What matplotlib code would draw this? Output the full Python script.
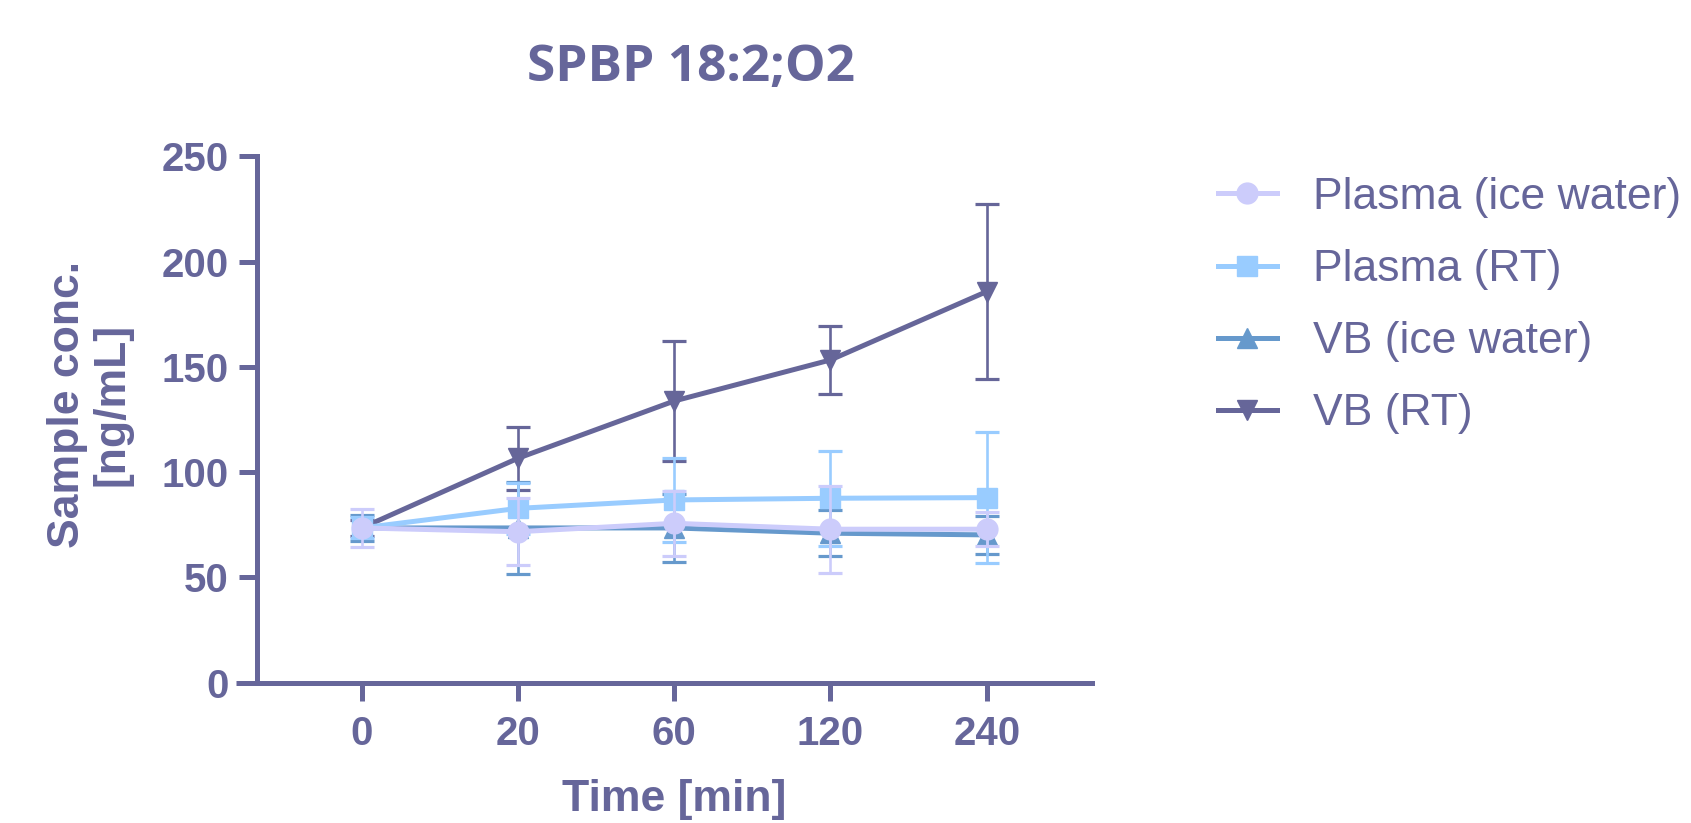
import numpy as np
import matplotlib.pyplot as plt
from matplotlib.lines import Line2D

# data
time_labels = ["0", "20", "60", "120", "240"]
series_names = ["Plasma (ice water)", "Plasma (RT)", "VB (ice water)", "VB (RT)"]

plasma_ice = [73.5, 71.7, 75.7, 72.9, 72.9]
plasma_ice_err = [9, 16, 15.5, 20.6, 8]
plasma_rt = [73.5, 82.8, 86.8, 87.6, 87.9]
plasma_rt_err = [5, 12, 20, 22.6, 31]
vb_ice = [73.5, 73.5, 73.5, 71.0, 70.2]
vb_ice_err = [6, 22, 16, 11, 9]
vb_rt = [73.5, 106.6, 133.8, 153.3, 185.8]
vb_rt_err = [4, 15, 28.7, 16, 41.7]

text_color = "#66669a"
colors = ["#ccccfb", "#99ccff", "#6699cc", "#666699"]
markers = ["o", "s", "^", "v"]

plt.rcParams["font.family"] = ["Liberation Sans", "DejaVu Sans"]

fig = plt.figure(figsize=(16.91, 8.23), dpi=100)
ax = fig.add_axes([0.1518, 0.1705, 0.4942, 0.6395])

x = np.arange(len(time_labels))
values = [plasma_ice, plasma_rt, vb_ice, vb_rt]
errors = [plasma_ice_err, plasma_rt_err, vb_ice_err, vb_rt_err]
zorders = [5, 4, 3, 2]

handles = []
for name, y, e, c, m, z in zip(series_names, values, errors, colors, markers, zorders):
    ax.errorbar(x, y, yerr=e, color=c, marker=m, markersize=15, linewidth=3.6,
                elinewidth=1.9, capsize=8.3, capthick=2.3, zorder=z)
    handles.append(Line2D([], [], color=c, marker=m, markersize=15, linewidth=3.6, label=name))

ax.set_xlim(-0.672, 4.676)
ax.set_ylim(0, 250)
ax.set_xticks(x)
ax.set_xticklabels(time_labels)
ax.set_yticks([0, 50, 100, 150, 200, 250])

for s in ["top", "right"]:
    ax.spines[s].set_visible(False)
for s in ["left", "bottom"]:
    ax.spines[s].set_linewidth(3.6)
    ax.spines[s].set_color(text_color)
# x axis runs a little past the y axis on the left
ax.plot([-0.025, 0], [0, 0], transform=ax.transAxes, color=text_color, lw=3.6,
        clip_on=False, solid_capstyle="butt")

ax.tick_params(axis="both", colors=text_color, length=13, width=3.6, labelsize=29)
ax.tick_params(axis="y", pad=7)
ax.tick_params(axis="x", pad=10)
for lab in ax.get_xticklabels() + ax.get_yticklabels():
    lab.set_fontweight("bold")

fig.text(0.4085, 0.917, "SPBP 18:2;O2", ha="center", va="center", fontsize=37,
         fontweight="bold", color=text_color, family="Open Sans")
fig.text(0.3988, 0.028, "Time [min]", ha="center", va="center", fontsize=32,
         fontweight="bold", color=text_color)
fig.text(0.053, 0.509, "Sample conc.\n[ng/mL]", ha="center", va="center", fontsize=32,
         fontweight="bold", color=text_color, rotation=90, linespacing=1.1)

leg = ax.legend(handles=handles, loc="upper left", bbox_to_anchor=(0.72, 0.785),
                bbox_transform=fig.transFigure, frameon=False, fontsize=32,
                handlelength=1.33, handletextpad=0.81, labelspacing=0.70,
                borderpad=0, borderaxespad=0)
for t in leg.get_texts():
    t.set_color(text_color)

fig.savefig("out.png", dpi=100)
